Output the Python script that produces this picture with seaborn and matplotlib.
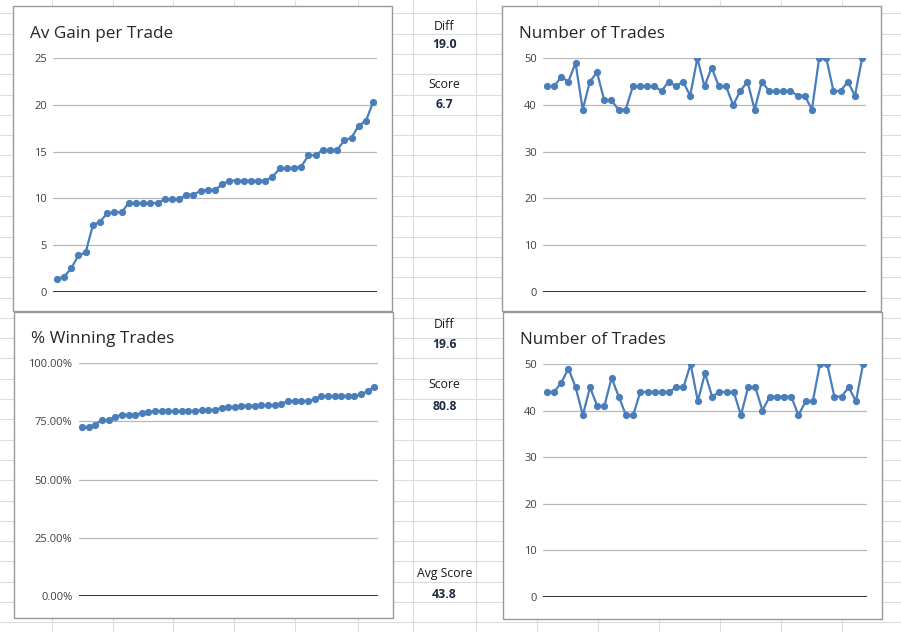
"""
Excel-style dashboard: four small line charts with a column of score cells.
"""

import numpy as np
import matplotlib.pyplot as plt
import seaborn as sns
from matplotlib.patches import Rectangle
from matplotlib.ticker import PercentFormatter, MultipleLocator

# ---- data --------------------------------------------------------------
runs = np.arange(1, 46)

av_gain = [1.4, 1.6, 2.5, 3.9, 4.2, 7.1, 7.5, 8.4, 8.5, 8.5,
           9.5, 9.5, 9.5, 9.5, 9.5, 9.9, 9.9, 9.9, 10.4, 10.4,
           10.8, 10.9, 10.9, 11.5, 11.9, 11.9, 11.9, 11.9, 11.9, 11.9,
           12.3, 13.2, 13.2, 13.3, 13.4, 14.6, 14.6, 15.2, 15.2, 15.2,
           16.2, 16.5, 17.8, 18.3, 20.3]

trades_top = [44, 44, 46, 45, 49, 39, 45, 47, 41, 41,
              39, 39, 44, 44, 44, 44, 43, 45, 44, 45,
              42, 50, 44, 48, 44, 44, 40, 43, 45, 39,
              45, 43, 43, 43, 43, 42, 42, 39, 50, 50,
              43, 43, 45, 42, 50]

pct_winning = [72.6, 72.6, 73.7, 75.6, 75.6, 77.0, 77.9, 77.9, 77.9, 78.6,
               79.0, 79.5, 79.5, 79.5, 79.5, 79.5, 79.5, 79.5, 80.0, 80.0,
               80.0, 80.9, 81.2, 81.3, 81.8, 81.8, 81.8, 81.9, 82.0, 82.0,
               82.5, 83.8, 83.8, 83.8, 83.8, 84.6, 85.8, 85.8, 86.0, 86.0,
               86.0, 86.1, 86.6, 88.1, 90.0]

trades_bottom = [44, 44, 46, 49, 45, 39, 45, 41, 41, 47,
                 43, 39, 39, 44, 44, 44, 44, 44, 45, 45,
                 50, 42, 48, 43, 44, 44, 44, 39, 45, 45,
                 40, 43, 43, 43, 43, 39, 42, 42, 50, 50,
                 43, 43, 45, 42, 50]

cell_labels = ["Diff", "Score", "Diff", "Score", "Avg Score"]
cell_values = ["19.0", "6.7", "19.6", "80.8", "43.8"]

# ---- look ---------------------------------------------------------------
sns.set_style("white")
plt.rcParams["font.family"] = ["Open Sans", "DejaVu Sans"]

BLUE = "#4a7ebb"
W, H = 901, 632

fig = plt.figure(figsize=(W / 100, H / 100), dpi=100)

# spreadsheet background (pixel coordinates, y down)
bg = fig.add_axes([0, 0, 1, 1])
bg.set_xlim(0, W)
bg.set_ylim(H, 0)
bg.axis("off")

col_lines = [51.7, 112.7, 173.3, 234.3, 295.3, 358, 413.3, 476,
             536.7, 597.7, 658.7, 719.7, 780.7, 841.7]
row_lines = 13.3 + 20.3 * np.arange(31)
bg.vlines(col_lines, 0, H, color="#dcdcdc", lw=0.8, zorder=1)
bg.hlines(row_lines, 0, W, color="#dcdcdc", lw=0.8, zorder=1)

# chart boxes (left, top, right, bottom) in pixels
boxes = [(13.3, 6, 392.3, 311), (502.3, 6, 880.7, 311),
         (14.3, 311.7, 393.3, 618), (503.3, 311.7, 882.3, 619)]
for x0, y0, x1, y1 in boxes:
    bg.add_patch(Rectangle((x0, y0), x1 - x0, y1 - y0, facecolor="white",
                           edgecolor="#999999", lw=1, zorder=2))

# score cells
label_y = [26, 85, 324, 385, 573]
value_y = [45, 104, 345, 406, 594]
for lab, val, ly, vy in zip(cell_labels, cell_values, label_y, value_y):
    bg.text(444.5, ly, lab, ha="center", va="center", fontsize=8.8,
            color="#1a1a1a", zorder=3)
    bg.text(444.5, vy, val, ha="center", va="center", fontsize=8.8,
            fontweight="bold", color="#1f2a44", zorder=3)


def add_chart(px, title, title_xy, y, ymax, step, fmt=None):
    x0, y0, x1, y1 = px
    ax = fig.add_axes([x0 / W, 1 - y1 / H, (x1 - x0) / W, (y1 - y0) / H])
    ax.set_facecolor("none")
    sns.lineplot(x=runs, y=y, ax=ax, color=BLUE, marker="o", markersize=5.2,
                 markeredgewidth=0, linewidth=1.6, zorder=3)
    ax.set_xlim(0.5, 45.5)
    ax.set_ylim(0, ymax)
    ax.yaxis.set_major_locator(MultipleLocator(step))
    if fmt is not None:
        ax.yaxis.set_major_formatter(fmt)
    ax.grid(axis="y", color="#b8b8b8", lw=0.9)
    ax.axhline(0, color="#1e1e1e", lw=1.3, zorder=2)
    ax.set_xticks([])
    ax.tick_params(axis="y", length=0, pad=4.5, labelsize=8,
                   labelcolor="#404040")
    ax.set_xlabel("")
    ax.set_ylabel("")
    for s in ax.spines.values():
        s.set_visible(False)
    bg.text(title_xy[0], title_xy[1], title, ha="left", va="baseline",
            fontsize=12.3, color="#262626", zorder=3)
    return ax


add_chart((53.3, 58.3, 376.7, 291.7), "Av Gain per Trade", (30, 37.7),
          av_gain, 25, 5)
add_chart((543.3, 58.3, 865.7, 291.7), "Number of Trades", (519.3, 37.7),
          trades_top, 50, 10)
add_chart((78.7, 363.3, 377.7, 596), "% Winning Trades", (30.7, 343.3),
          pct_winning, 100, 25, PercentFormatter(xmax=100, decimals=2))
add_chart((543.3, 364, 866.7, 596.7), "Number of Trades", (520, 344),
          trades_bottom, 50, 10)

fig.savefig("out.png", dpi=100)
